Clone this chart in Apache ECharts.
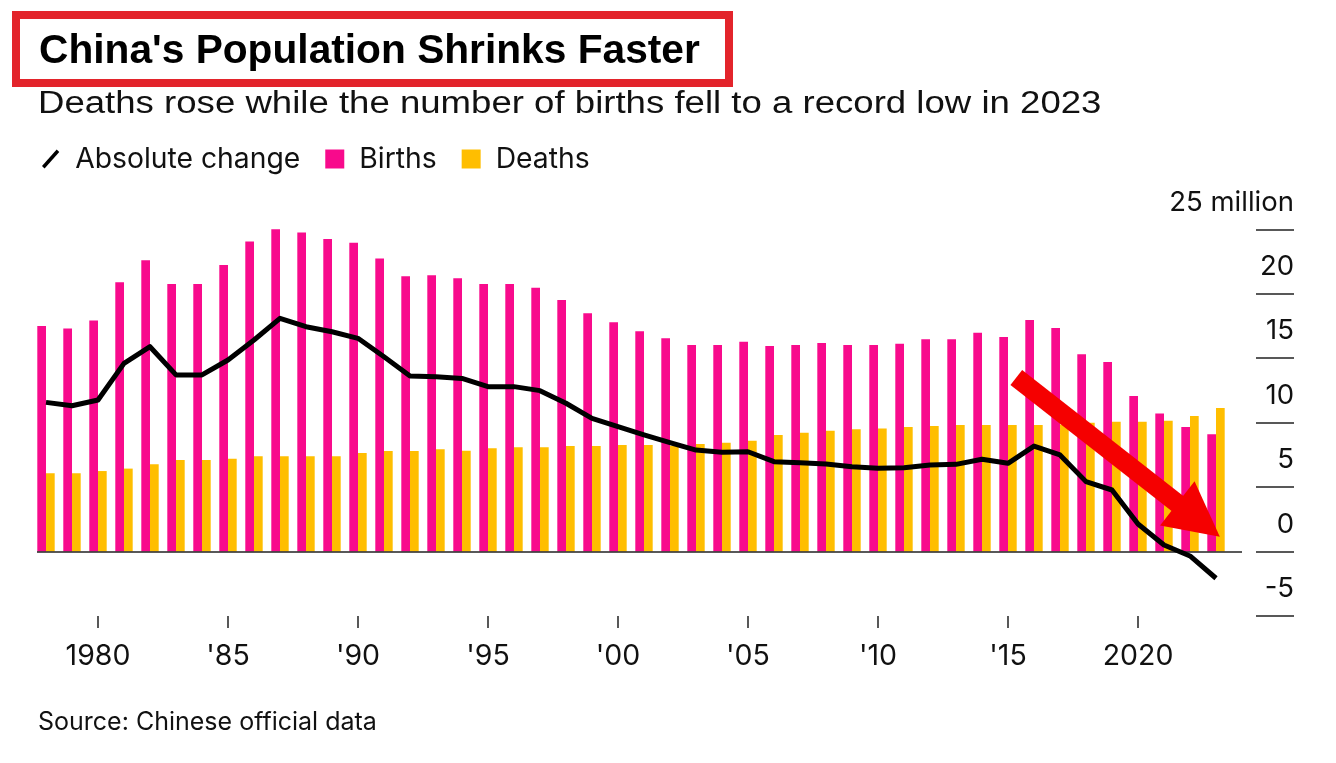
<!DOCTYPE html>
<html><head><meta charset="utf-8">
<script src="https://cdn.jsdelivr.net/npm/echarts@6/dist/echarts.min.js"></script>
<style>html,body{margin:0;padding:0;background:#fff}#c{width:1336px;height:763px}</style>
</head><body><div id="c"></div>
<script>
const years = [1978,1979,1980,1981,1982,1983,1984,1985,1986,1987,1988,1989,1990,1991,1992,1993,1994,1995,1996,1997,1998,1999,2000,2001,2002,2003,2004,2005,2006,2007,2008,2009,2010,2011,2012,2013,2014,2015,2016,2017,2018,2019,2020,2021,2022,2023];
const births = [17.49,17.3,17.93,20.9,22.59,20.75,20.75,22.23,24.06,25.4,24.76,24.24,23.96,22.74,21.35,21.43,21.2,20.75,20.75,20.47,19.51,18.48,17.78,17.08,16.54,16.02,16.02,16.28,15.94,16.02,16.18,16.02,16.02,16.12,16.46,16.46,16.98,16.64,17.96,17.34,15.3,14.7,12.06,10.7,9.66,9.1];
const deaths = [6.07,6.07,6.24,6.43,6.76,7.10,7.10,7.2,7.38,7.38,7.38,7.38,7.64,7.8,7.8,7.93,7.82,8.0,8.08,8.08,8.18,8.18,8.26,8.26,8.2,8.34,8.44,8.6,9.04,9.22,9.37,9.48,9.55,9.66,9.74,9.81,9.81,9.81,9.81,9.86,9.99,10.07,10.07,10.15,10.51,11.13];
const change = [11.57,11.31,11.75,14.6,15.89,13.7,13.7,14.86,16.41,18.09,17.44,17.05,16.54,15.11,13.62,13.56,13.43,12.79,12.79,12.48,11.5,10.33,9.68,9.04,8.44,7.87,7.7,7.74,6.97,6.89,6.79,6.58,6.45,6.5,6.71,6.76,7.15,6.84,8.18,7.49,5.42,4.77,2.13,0.5,-0.35,-2.08];
const xTickYears = [1980,1985,1990,1995,2000,2005,2010,2015,2020];
const xTickLabels = ['1980',"'85","'90","'95","'00","'05","'10","'15",'2020'];
const yTickValues = [-5,0,5,10,15,20,25];
const yTickLabels = ['-5','0','5','10','15','20','25 million'];
const arrowFrom = [2015.32, 13.5];
const arrowTo = [2022.33, 2.44];

const FONT = '"Liberation Sans", Arial, Helvetica, sans-serif';
const FONT2 = 'Inter, "Liberation Sans", Arial, sans-serif';
const pair = (arr) => years.map((y, i) => [y, arr[i]]);

const chart = echarts.init(document.getElementById('c'), null, {renderer: 'canvas'});
chart.setOption({
  backgroundColor: '#fff',
  animation: false,
  textStyle: {fontFamily: FONT},
  title: [
    {text: "China's Population Shrinks Faster", left: 34, top: 26,
     textStyle: {fontFamily: FONT, fontWeight: 'bold', fontSize: 40.7, color: '#000'}},
    {text: 'Source: Chinese official data', left: 33, top: 705,
     textStyle: {fontFamily: FONT2, fontWeight: 'normal', fontSize: 25, color: '#111'}}
  ],
  graphic: [
    {type: 'rect', z: 100, shape: {x: 16, y: 15, width: 713, height: 68},
     style: {fill: 'none', stroke: '#e3242b', lineWidth: 8}},
    {type: 'text', x: 38, y: 89, scaleX: 1.18, z: 100,
     style: {text: 'Deaths rose while the number of births fell to a record low in 2023',
       font: 'normal 31px ' + FONT, fill: '#111', textAlign: 'left', textVerticalAlign: 'top'}}
  ],
  legend: {
    left: 37, top: 140, itemGap: 25, itemWidth: 19, itemHeight: 19,
    textStyle: {fontFamily: FONT2, fontSize: 28.3, color: '#111', padding: [0,0,0,10]},
    data: [
      {name: 'Absolute change', icon: 'path://M0,19 L17,0 L20,3 L3,22 Z', itemStyle: {color: '#000'}},
      {name: 'Births', icon: 'rect'},
      {name: 'Deaths', icon: 'rect'}
    ]
  },
  grid: {left: 37, right: 94, top: 229.3, bottom: 147.1, containLabel: false},
  xAxis: {
    type: 'value', min: 1977.654, max: 2024.0,
    splitLine: {show: false},
    axisLine: {show: false, onZero: false},
    axisTick: {show: true, customValues: xTickYears, length: 12, lineStyle: {color: '#222', width: 1.5}},
    axisLabel: {customValues: xTickYears, margin: 26, fontFamily: FONT2, fontSize: 28.5, color: '#111',
      formatter: (v) => xTickLabels[xTickYears.indexOf(v)] ?? ''}
  },
  yAxis: {
    type: 'value', position: 'right', offset: 14, min: -5, max: 25, interval: 5,
    splitLine: {show: false},
    axisLine: {show: false},
    axisTick: {show: true, length: 38, inside: false, lineStyle: {color: '#222', width: 1.5}},
    axisLabel: {align: 'right', margin: 38, verticalAlign: 'bottom', lineHeight: 28, padding: [0,0,13,0],
      fontFamily: FONT2, fontSize: 27.5, color: '#111',
      formatter: (v) => yTickLabels[yTickValues.indexOf(v)] ?? ''}
  },
  series: [
    {name: 'Births', type: 'bar', data: pair(births), barWidth: 8.7, barGap: '0%',
     itemStyle: {color: '#f80a8c'},
     markLine: {silent: true, symbol: ['none','none'], label: {show: false},
       lineStyle: {color: '#222', width: 1.5, type: 'solid'}, data: [{yAxis: 0}]}},
    {name: 'Deaths', type: 'bar', data: pair(deaths), barWidth: 8.7, barGap: '0%',
     itemStyle: {color: '#ffbe00'}},
    {name: 'Absolute change', type: 'line', data: pair(change), symbol: 'none', z: 5,
     lineStyle: {color: '#000', width: 5, join: 'round'}, itemStyle: {color: '#000'},
     markLine: {silent: true, z: 10, symbol: ['none','triangle'], symbolSize: [56, 54], label: {show: false},
       lineStyle: {color: '#f50000', width: 19, type: 'solid', opacity: 1, cap: 'butt'},
       data: [[{coord: arrowFrom}, {coord: arrowTo}]]}}
  ]
});
</script></body></html>
